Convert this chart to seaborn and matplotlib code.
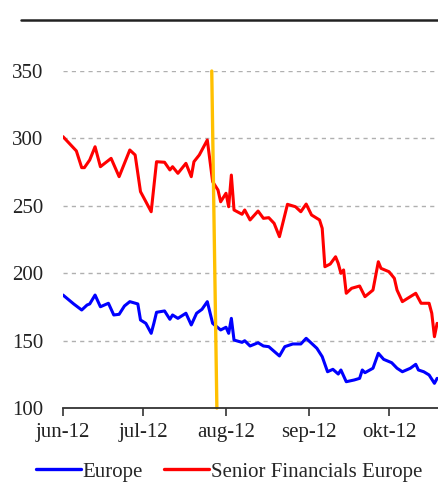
import matplotlib
matplotlib.use("Agg")
import matplotlib.pyplot as plt
from matplotlib.lines import Line2D
import seaborn as sns
import pandas as pd

# ---- data ----
europe_dates = ["2012-06-01", "2012-06-05", "2012-06-08", "2012-06-10", "2012-06-11", "2012-06-13",
                "2012-06-15", "2012-06-18", "2012-06-20", "2012-06-22", "2012-06-24", "2012-06-26",
                "2012-06-29", "2012-06-30", "2012-07-02", "2012-07-04", "2012-07-05", "2012-07-06",
                "2012-07-09", "2012-07-11", "2012-07-12", "2012-07-14", "2012-07-17", "2012-07-19",
                "2012-07-21", "2012-07-23", "2012-07-25", "2012-07-27", "2012-07-30", "2012-08-01",
                "2012-08-02", "2012-08-03", "2012-08-04", "2012-08-07", "2012-08-08", "2012-08-10",
                "2012-08-13", "2012-08-15", "2012-08-17", "2012-08-21", "2012-08-23", "2012-08-26",
                "2012-08-29", "2012-08-31", "2012-09-04", "2012-09-06", "2012-09-08", "2012-09-10",
                "2012-09-12", "2012-09-13", "2012-09-15", "2012-09-18", "2012-09-20", "2012-09-21",
                "2012-09-22", "2012-09-25", "2012-09-27", "2012-09-29", "2012-10-02", "2012-10-04",
                "2012-10-06", "2012-10-09", "2012-10-11", "2012-10-12", "2012-10-14", "2012-10-16",
                "2012-10-18", "2012-10-19"]
europe_vals = [183.8, 177.2, 172.7, 176.4, 177.2, 183.8,
               175.1, 177.7, 169.0, 169.5, 175.7, 178.9,
               177.2, 165.3, 162.8, 155.4, 162.8, 171.0,
               172.0, 165.8, 169.0, 166.5, 170.3, 161.6,
               170.3, 173.2, 178.9, 162.8, 157.9, 159.9,
               155.4, 166.5, 150.4, 148.7, 149.9, 146.0,
               148.4, 146.0, 145.5, 138.6, 145.5, 147.5,
               147.5, 151.7, 144.3, 138.1, 126.9, 128.7,
               125.2, 128.2, 119.5, 120.8, 122.0, 128.2,
               126.2, 129.5, 140.6, 136.1, 133.6, 129.5,
               126.9, 129.5, 132.4, 128.2, 126.9, 124.5,
               118.3, 122.0]

fin_dates = ["2012-06-01", "2012-06-06", "2012-06-08", "2012-06-09", "2012-06-11", "2012-06-13",
             "2012-06-15", "2012-06-19", "2012-06-22", "2012-06-26", "2012-06-28", "2012-06-30",
             "2012-07-02", "2012-07-04", "2012-07-06", "2012-07-09", "2012-07-11", "2012-07-12",
             "2012-07-14", "2012-07-17", "2012-07-19", "2012-07-20", "2012-07-22", "2012-07-25",
             "2012-07-27", "2012-07-29", "2012-07-30", "2012-08-01", "2012-08-02", "2012-08-03",
             "2012-08-04", "2012-08-07", "2012-08-08", "2012-08-10", "2012-08-13", "2012-08-15",
             "2012-08-17", "2012-08-19", "2012-08-21", "2012-08-24", "2012-08-27", "2012-08-29",
             "2012-08-31", "2012-09-02", "2012-09-05", "2012-09-06", "2012-09-07", "2012-09-09",
             "2012-09-11", "2012-09-12", "2012-09-13", "2012-09-14", "2012-09-15", "2012-09-17",
             "2012-09-20", "2012-09-22", "2012-09-25", "2012-09-27", "2012-09-28", "2012-10-01",
             "2012-10-03", "2012-10-04", "2012-10-06", "2012-10-08", "2012-10-11", "2012-10-13",
             "2012-10-16", "2012-10-17", "2012-10-18", "2012-10-19"]
fin_vals = [301.3, 290.7, 278.3, 278.3, 284.0, 293.8,
            279.0, 285.2, 271.6, 291.4, 287.7, 260.5,
            253.1, 245.6, 282.7, 282.3, 276.6, 279.0,
            274.1, 281.5, 271.6, 282.7, 287.7, 298.8,
            267.9, 261.7, 253.0, 259.3, 249.3, 272.8,
            246.9, 243.7, 246.9, 239.5, 246.1, 240.7,
            241.2, 237.0, 227.1, 251.1, 249.3, 245.6,
            251.3, 243.2, 239.5, 233.3, 204.8, 206.8,
            212.2, 207.3, 199.9, 202.4, 185.1, 188.8,
            190.5, 182.6, 187.5, 208.5, 203.6, 201.1,
            196.2, 187.5, 178.9, 181.4, 185.1, 177.7,
            177.7, 170.3, 152.9, 162.8]

marker_dates = ["2012-07-26 16:00", "2012-07-28 14:00"]
marker_vals = [350, 100]

month_ticks = ["2012-06-01", "2012-07-01", "2012-08-01", "2012-09-01", "2012-10-01"]
month_labels = ["jun-12", "jul-12", "aug-12", "sep-12", "okt-12"]
y_ticks = [100, 150, 200, 250, 300, 350]
series_names = ["Europe", "Senior Financials Europe"]

# ---- plotting ----
sns.set_style("white")
plt.rcParams["font.family"] = ["Liberation Serif", "DejaVu Serif"]

fig = plt.figure(figsize=(4.38, 4.88), dpi=100)
ax = fig.add_axes([63 / 438, 1 - 408 / 488, 1 - 63 / 438, (408 - 71) / 488])

eu = pd.DataFrame({"date": pd.to_datetime(europe_dates), "val": europe_vals})
fi = pd.DataFrame({"date": pd.to_datetime(fin_dates), "val": fin_vals})
mk = pd.DataFrame({"date": pd.to_datetime(marker_dates), "val": marker_vals})

for v in y_ticks[1:]:
    ax.axhline(v, color="#b0b0b0", lw=1.0, ls=(0, (3, 3)), zorder=0)

sns.lineplot(data=eu, x="date", y="val", ax=ax, color="#0000ff", lw=2.2,
             label=series_names[0], legend=False)
sns.lineplot(data=fi, x="date", y="val", ax=ax, color="#ff0000", lw=2.2,
             label=series_names[1], legend=False)
sns.lineplot(data=mk, x="date", y="val", ax=ax, color="#ffc000", lw=2.4,
             legend=False, clip_on=False)

ax.set_ylim(100, 350)
ax.set_xlim(pd.Timestamp("2012-06-01"), pd.Timestamp("2012-10-19 08:00"))
ax.set_yticks(y_ticks)
ax.set_yticklabels([str(v) for v in y_ticks])
ax.set_xticks(pd.to_datetime(month_ticks))
ax.set_xticklabels(month_labels)
ax.set_xlabel("")
ax.set_ylabel("")

for s in ["top", "right", "left"]:
    ax.spines[s].set_visible(False)
ax.spines["bottom"].set_color("#333333")
ax.spines["bottom"].set_linewidth(1.3)

ax.tick_params(axis="y", length=0, pad=14, labelsize=15, labelcolor="#222222")
ax.tick_params(axis="x", direction="out", length=6, width=1.2, color="#333333",
               pad=5, labelsize=15, labelcolor="#222222", bottom=True)

handles = [Line2D([], [], color="#0000ff", lw=2.4), Line2D([], [], color="#ff0000", lw=2.4)]
fig.legend(handles, series_names, loc="center", bbox_to_anchor=(229 / 438, 1 - 472 / 488),
           ncol=2, frameon=False, fontsize=15, handlelength=2.15, handletextpad=0.1,
           columnspacing=1.0)

# header rule at top
fig.add_artist(Line2D([21 / 438, 1.0], [1 - 20 / 488, 1 - 20 / 488],
                      color="#222222", lw=1.8, transform=fig.transFigure))

fig.savefig("out.png", dpi=100)
